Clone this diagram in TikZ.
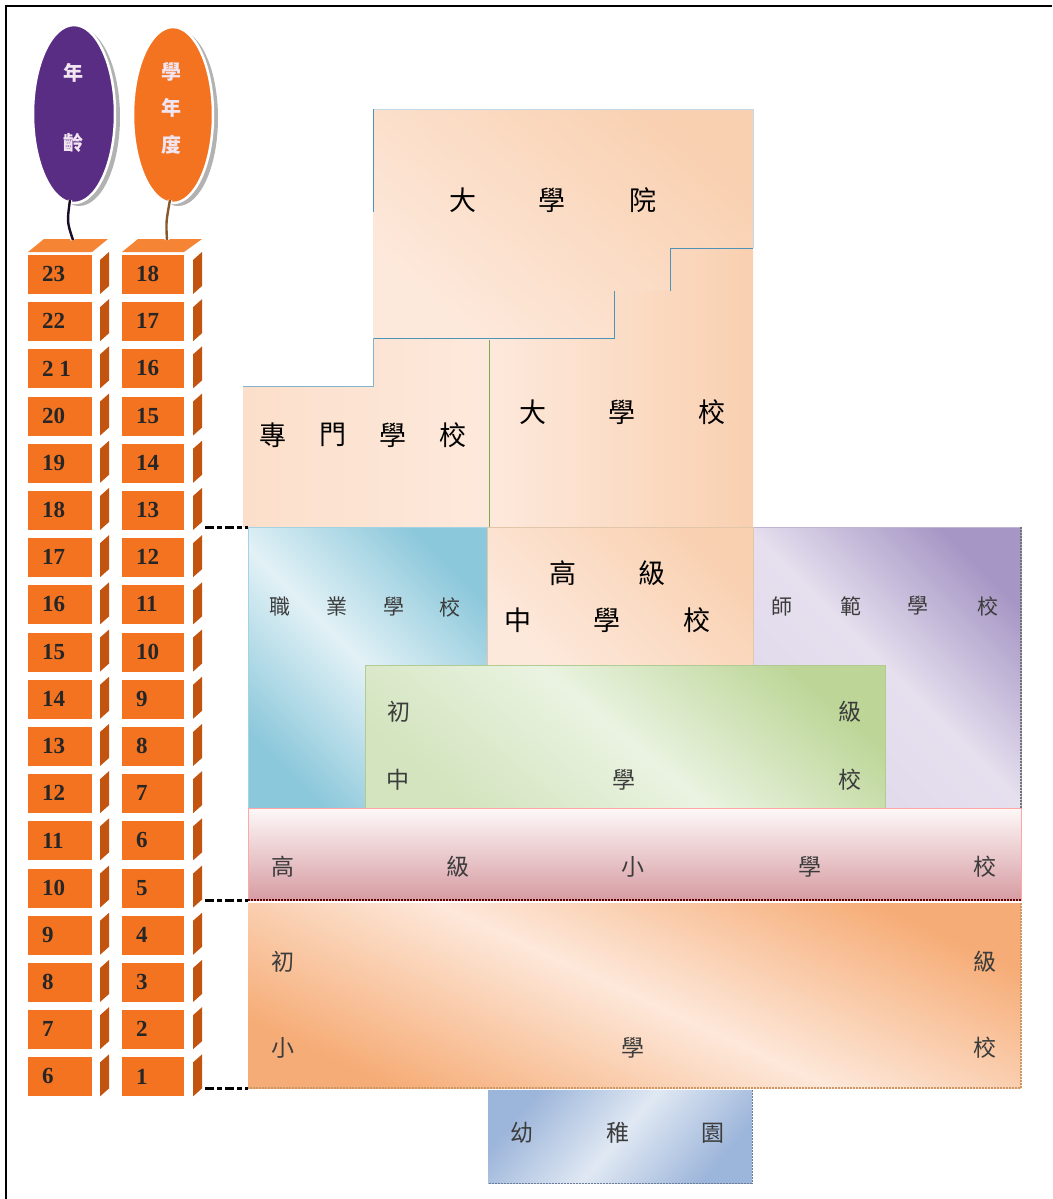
\documentclass[tikz,border=0pt]{standalone}
\usepackage{fontspec}
\setmainfont{Liberation Serif}
\newfontfamily\cjk{Noto Sans CJK TC}
\usetikzlibrary{shapes.geometric,fit}

\definecolor{cubefront}{HTML}{F37321}
\definecolor{cubeside}{HTML}{C2540F}
\definecolor{cubetop}{HTML}{F58535}
\definecolor{balpurple}{HTML}{5A2D84}
\definecolor{balorange}{HTML}{F37321}
\definecolor{peachL}{HTML}{FDE9DC}
\definecolor{peachD}{HTML}{F9D0B0}
\definecolor{edgeblue}{HTML}{4F93B8}
\definecolor{edgegreen}{HTML}{7EA84A}
\definecolor{vocdark}{HTML}{8CC8DB}
\definecolor{voclight}{HTML}{E2F1F6}
\definecolor{purdark}{HTML}{A696C5}
\definecolor{purlight}{HTML}{E5DFEE}
\definecolor{grndark}{HTML}{BDD698}
\definecolor{grnlight}{HTML}{EAF3E1}
\definecolor{grnlow}{HTML}{D3E4BE}
\definecolor{pinktop}{HTML}{FEF8F8}
\definecolor{pinkbot}{HTML}{D69CA2}
\definecolor{orgdark}{HTML}{F6AC76}
\definecolor{orglight}{HTML}{FDE8DA}
\definecolor{kgdark}{HTML}{9CB5DA}
\definecolor{kglight}{HTML}{E0E8F3}
\definecolor{txtgray}{HTML}{3C3C3C}

\begin{document}
\begin{tikzpicture}[x=1pt,y=-1pt,
  every node/.style={inner sep=0pt,outer sep=0pt},
  region/.style={rectangle,inner sep=0pt,outer sep=0pt,line width=0.8pt},
  frontface/.style={rectangle,fill=cubefront,anchor=north west,minimum height=39pt},
  numtext/.style={anchor=west,font=\fontsize{23}{23}\selectfont\bfseries,text=black!85},
  bigchar/.style={font=\cjk\fontsize{27}{27}\selectfont,text=black},
  midchar/.style={font=\cjk\fontsize{23}{23}\selectfont,text=txtgray},
  smallchar/.style={font=\cjk\fontsize{21}{21}\selectfont,text=txtgray},
  balchar/.style={font=\cjk\fontsize{20}{20}\selectfont\bfseries,text=white!90!violet},
  tickline/.style={line width=3pt,dash pattern=on 9pt off 3pt on 5pt off 3pt,black},
  tail/.style={draw=white,double=#1,double distance=2.4pt,line width=1.1pt}
]
\useasboundingbox (0,0) rectangle (1052,1199);
\fill[white] (0,0) rectangle (1052,1199);

% outer frame
\draw[line width=1.8pt] (6,1199) -- (6,6) -- (1052,6);

% ---------- higher education ----------
\path[top color=peachD,bottom color=peachL,shading angle=-40]
  (373,109) -- (753,109) -- (753,248) -- (670,248) -- (670,291) -- (614,291)
  -- (614,338) -- (373,338) -- cycle;
\path[left color=peachL,right color=peachD]
  (489,338) -- (614,338) -- (614,291) -- (670,291) -- (670,248) -- (753,248)
  -- (753,527) -- (489,527) -- cycle;
\path[left color=peachL!60!peachD,right color=peachL]
  (243,386) -- (373,386) -- (373,338) -- (489,338) -- (489,527) -- (243,527) -- cycle;
\draw[edgeblue!35,line width=0.8pt] (373,109) -- (753,109) -- (753,248);
\draw[edgeblue,line width=1pt] (373,212) -- (373,109);
\draw[edgeblue,line width=1pt] (373,338) -- (614,338) -- (614,291);
\draw[edgeblue,line width=1pt] (670,291) -- (670,248) -- (753,248);
\draw[edgeblue!70,line width=1pt] (243,386) -- (373,386) -- (373,338);
\draw[edgegreen,line width=1pt] (489,340) -- (489,527);

% ---------- secondary level ----------
\node[region,fit={(248,527) (487,808)},draw=vocdark!80,
  top color=vocdark,bottom color=vocdark,middle color=voclight,shading angle=-45] (voc) {};
\node[region,fit={(753,527) (1021,808)},draw=purdark!70,
  top color=purdark,bottom color=purlight!92!purdark,middle color=purlight,shading angle=-45] (normal) {};
\draw[black!55,line width=1.2pt,dash pattern=on 2pt off 1pt] (normal.north east) -- (normal.south east);
\node[region,fit={(487,527) (753,665)},draw=brown!45,
  top color=peachD,bottom color=peachL,shading angle=-45] (hs) {};
\node[region,fit={(365,665) (885,810)},draw=edgegreen!60,
  top color=grndark,bottom color=grnlow,middle color=grnlight,shading angle=-40] (jhs) {};
\draw[black!55!green!40!black,line width=1.2pt,dash pattern=on 2pt off 1pt] (jhs.south west) -- (jhs.south east);

% ---------- primary level ----------
\node[region,fit={(248,808) (1021,900)},draw=red!35,
  top color=pinktop,bottom color=pinkbot] (ups) {};
\draw[red!35!black,line width=2pt,dash pattern=on 2pt off 1pt] (ups.south west) -- (ups.south east);
\node[region,fit={(248,903) (1021,1088)},
  top color=orgdark,bottom color=orgdark,middle color=orglight,shading angle=-25] (lps) {};
\draw[brown!80,line width=1.3pt,dash pattern=on 2pt off 1pt] (lps.north east) -- (lps.south east) -- (lps.south west);
\node[region,fit={(488,1090) (752,1183)},
  top color=kgdark,bottom color=kgdark,middle color=kglight,shading angle=50] (kg) {};
\draw[kgdark!70!black,line width=1pt,dash pattern=on 2pt off 1pt] (kg.north east) -- (kg.south east) -- (kg.south west);

% ---------- school names ----------
\foreach \c/\x/\y [count=\k] in {大/463/200,學/552/200,院/643/200}
  \node[bigchar] (grad\k) at (\x,\y) {\c};
\foreach \c/\x/\y [count=\k] in {專/273/435,門/333/435,學/393/435,校/453/435}
  \node[bigchar] (tech\k) at (\x,\y) {\c};
\foreach \c/\x/\y [count=\k] in {大/533/412,學/622/412,校/712/412}
  \node[bigchar] (univ\k) at (\x,\y) {\c};
\foreach \c/\x/\y [count=\k] in {高/563/573,級/652/573,中/518/620,學/607/620,校/697/620}
  \node[bigchar] (hsl\k) at (\x,\y) {\c};
\foreach \c/\x/\y [count=\k] in {職/280/607,業/337/607,學/394/607,校/450/607}
  \node[smallchar] (vocl\k) at (\x,\y) {\c};
\foreach \c/\x/\y [count=\k] in {師/782/606,範/851/606,學/918/606,校/988/606}
  \node[smallchar] (norl\k) at (\x,\y) {\c};
\foreach \c/\x/\y [count=\k] in {初/399/712,級/850/712,中/398/780,學/624/780,校/850/780}
  \node[midchar] (jhsl\k) at (\x,\y) {\c};
\foreach \c/\x/\y [count=\k] in {高/283/867,級/458/867,小/633/867,學/810/867,校/985/867}
  \node[midchar] (upsl\k) at (\x,\y) {\c};
\foreach \c/\x/\y [count=\k] in {初/283/962,級/985/962,小/283/1048,學/633/1048,校/985/1048}
  \node[midchar] (lpsl\k) at (\x,\y) {\c};
\foreach \c/\x/\y [count=\k] in {幼/522/1133,稚/618/1133,園/713/1133}
  \node[midchar] (kgl\k) at (\x,\y) {\c};

% ---------- cube columns ----------
\fill[cubetop] (28,252) -- (92,252) -- (108,239) -- (44,239) -- cycle;
\fill[cubetop] (122,252) -- (184,252) -- (202,239) -- (138,239) -- cycle;
\foreach \a/\b [count=\i from 0] in {23/18,22/17,2 1/16,20/15,19/14,18/13,17/12,16/11,15/10,14/9,13/8,12/7,11/6,10/5,9/4,8/3,7/2,6/1}{
  \pgfmathsetmacro\t{255+47.2*\i}
  \node[frontface,minimum width=64pt] (age\i) at (28,\t) {};
  \node[numtext] (agen\i) at (42,\t+19) {\a};
  \fill[cubeside] (100,\t+5) -- (109,\t-3) -- (109,\t+31) -- (100,\t+39) -- cycle;
  \node[frontface,minimum width=62pt] (yr\i) at (122,\t) {};
  \node[numtext] (yrn\i) at (136,\t+19) {\b};
  \fill[cubeside] (193,\t+5) -- (202,\t-3) -- (202,\t+31) -- (193,\t+39) -- cycle;
}
\coordinate (agetop) at (73,240);
\coordinate (yrtop) at (167,240);

% ---------- balloons ----------
\fill[black!30] (79,117) ellipse [x radius=41, y radius=89];
\fill[black!30] (178,118) ellipse [x radius=40, y radius=88];
\node[ellipse,fill=balpurple,draw=white,line width=2.5pt,minimum width=82pt,minimum height=178pt] (agebal) at (74,114) {};
\node[ellipse,fill=balorange,draw=white,line width=2.5pt,minimum width=80pt,minimum height=176pt] (yrbal) at (173,115) {};
\draw[tail=black!70!balpurple] ([xshift=-4pt,yshift=3pt]agebal.south) .. controls (67,222) .. (agetop);
\draw[tail=brown!70!black] ([xshift=-3pt,yshift=3pt]yrbal.south) .. controls (166,222) .. (yrtop);
\node[balchar] (agec1) at (73,73) {年};
\node[balchar] (agec2) at (73,143) {齡};
\node[balchar] (yrc1) at (171,72) {學};
\node[balchar] (yrc2) at (171,108) {年};
\node[balchar] (yrc3) at (171,145) {度};

% ---------- level markers ----------
\coordinate (m1) at (205,527);
\coordinate (m2) at (205,900);
\coordinate (m3) at (205,1088);
\draw[tickline] (m1) -- (voc.north west);
\draw[tickline] (m2) -- (ups.south west);
\draw[tickline] (m3) -- (lps.south west);
\end{tikzpicture}
\end{document}
